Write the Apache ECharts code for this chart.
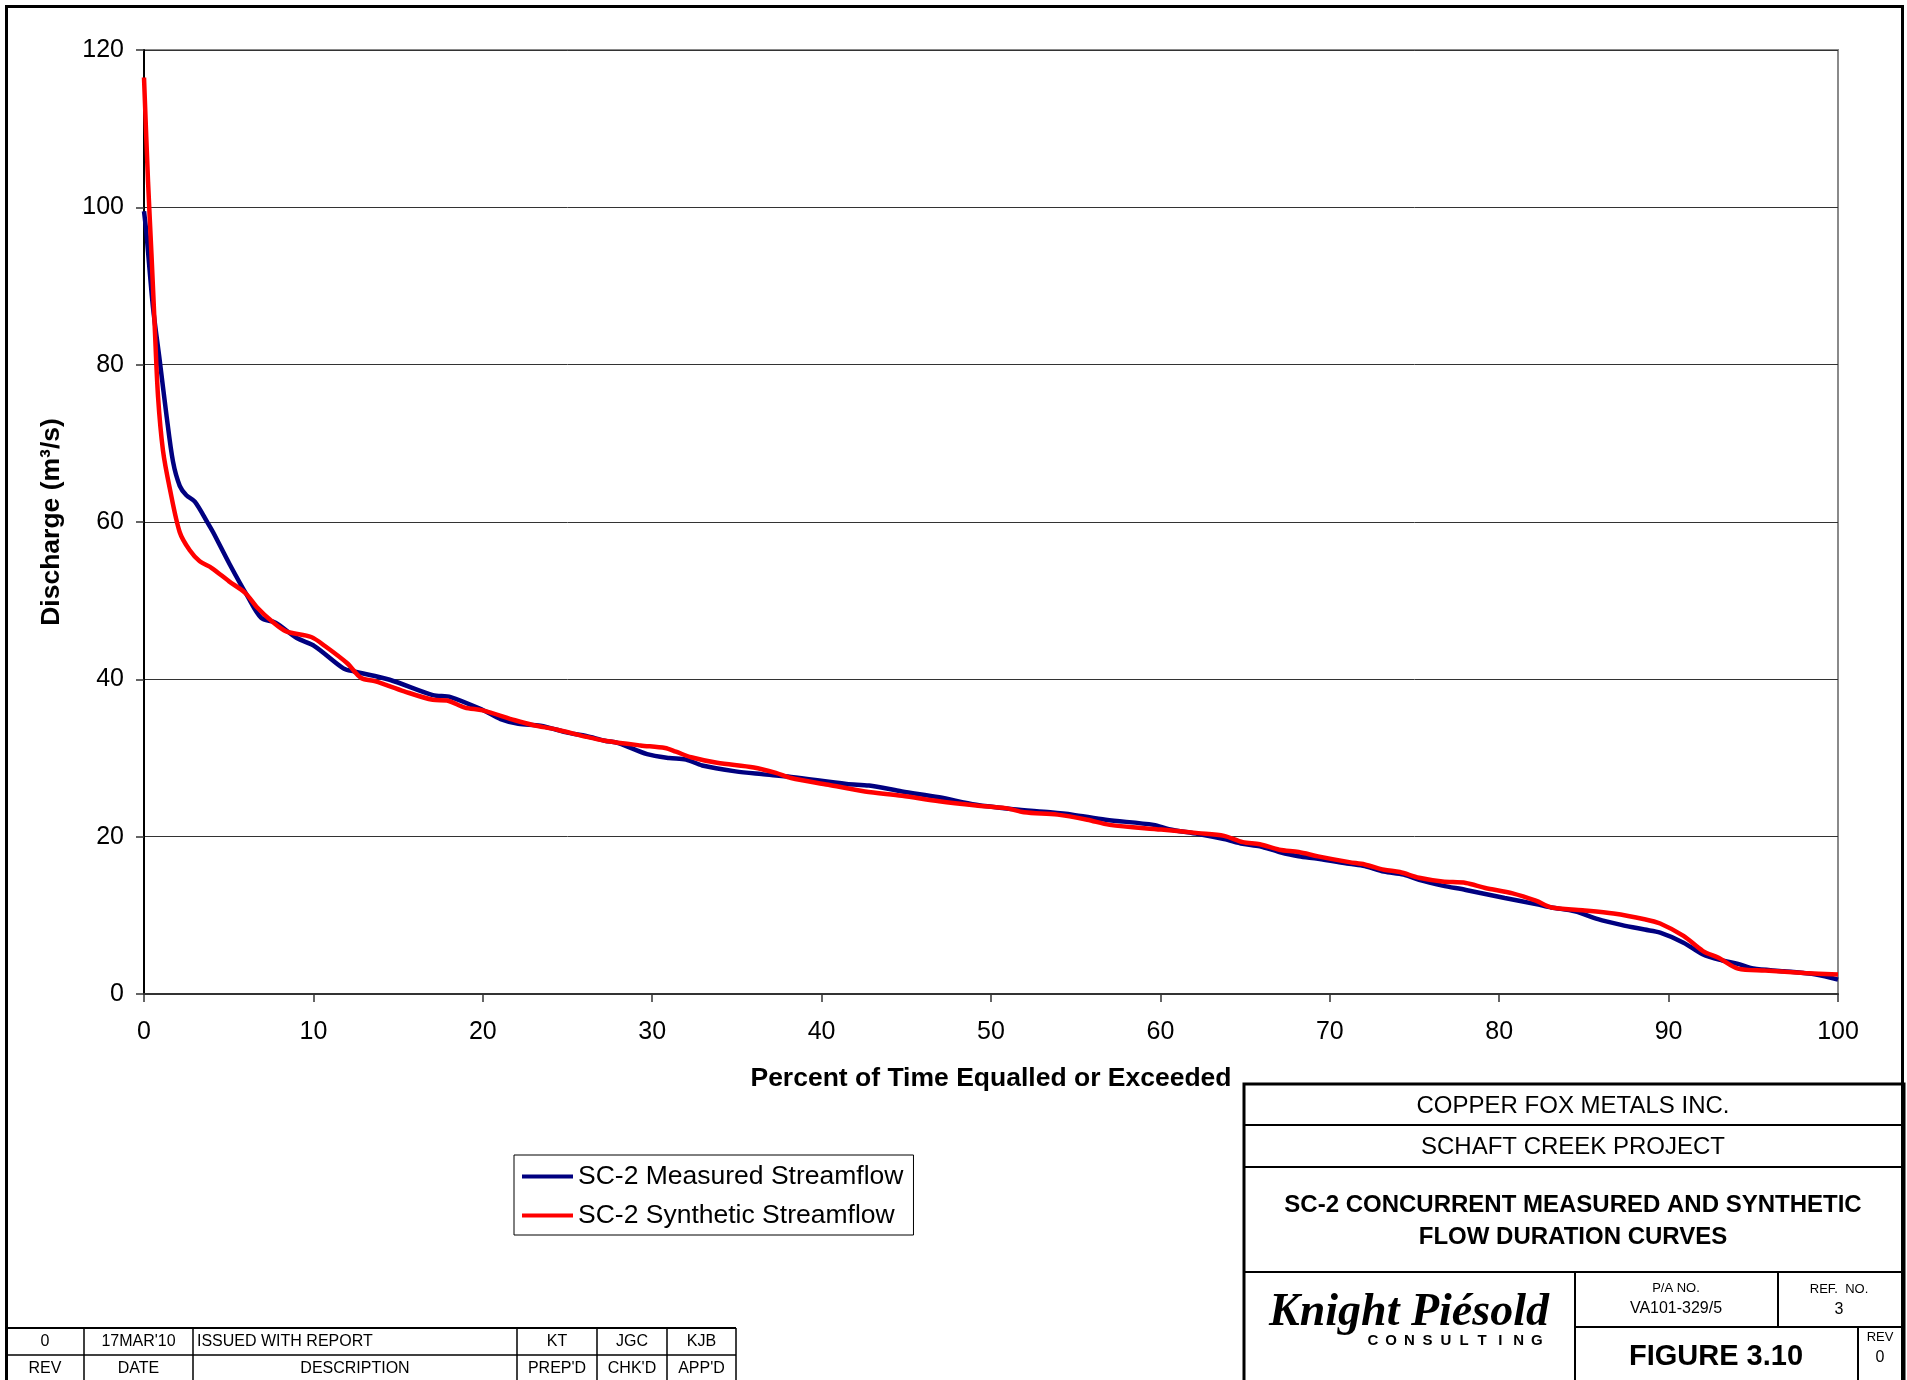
<!DOCTYPE html>
<html><head><meta charset="utf-8">
<script src="https://cdn.jsdelivr.net/npm/echarts@6/dist/echarts.min.js"></script>
<style>html,body{margin:0;padding:0;background:#fff}#c{width:1907px;height:1380px}</style>
</head><body><div id="c"></div>
<script>
// ---------- data ----------
const seriesNames = ['SC-2 Measured Streamflow', 'SC-2 Synthetic Streamflow'];
const xAxisTitle = 'Percent of Time Equalled or Exceeded';
const yAxisTitle = 'Discharge (m\u00B3/s)';
const xTickMin = 0, xTickMax = 100, xTickStep = 10;
const yTickMin = 0, yTickMax = 120, yTickStep = 20;

const pctMeasured = [0, 0.14, 0.53, 0.93, 1.32, 1.71, 2.11, 2.5, 3.0, 3.76, 4.08, 5.04, 6.1, 6.92, 7.76, 9.02, 10.08, 11.77, 12.4, 14.5, 17.05, 18.1, 20.0, 21.05, 22.1, 23.4, 25.06, 26.1, 27.2, 28.0, 29.7, 31.0, 32.0, 32.95, 34.92, 36.45, 38.2, 41.48, 42.8, 44.75, 46.94, 49.12, 51.3, 53.5, 54.8, 56.77, 59.6, 60.5, 62.24, 63.76, 64.86, 65.87, 67.02, 68.16, 69.31, 71.15, 72.06, 73.2, 74.36, 75.27, 76.65, 78.03, 80.33, 82.16, 83.08, 84.47, 85.83, 87.2, 88.58, 89.5, 90.88, 92.03, 93.17, 94.1, 95.0, 96.8, 98.7, 100];
const flowMeasured = [99.5, 96.8, 87.3, 80.5, 73.7, 67.7, 64.6, 63.4, 62.6, 59.9, 58.7, 54.7, 50.6, 47.8, 47.2, 45.25, 44.2, 41.4, 41.0, 39.95, 38.0, 37.75, 36.1, 34.95, 34.35, 34.1, 33.2, 32.8, 32.2, 31.9, 30.5, 30.0, 29.8, 29.05, 28.3, 27.95, 27.6, 26.7, 26.5, 25.75, 25.0, 24.05, 23.5, 23.1, 22.8, 22.15, 21.5, 20.95, 20.35, 19.7, 19.1, 18.77, 18.05, 17.5, 17.2, 16.55, 16.26, 15.57, 15.19, 14.5, 13.78, 13.23, 12.2, 11.43, 11.0, 10.5, 9.51, 8.79, 8.19, 7.8, 6.53, 5.03, 4.26, 3.83, 3.23, 2.9, 2.47, 1.83];

const pctSynthetic = [0, 0.24, 0.44, 0.63, 0.83, 1.12, 1.52, 2.11, 2.7, 3.29, 4.0, 5.02, 5.97, 6.71, 7.55, 8.39, 9.87, 10.7, 11.98, 12.82, 13.67, 15.36, 17.05, 17.89, 18.94, 20.0, 21.9, 22.95, 24.4, 26.1, 27.2, 29.3, 30.76, 31.4, 32.3, 33.83, 36.0, 37.3, 38.2, 40.4, 42.56, 44.75, 46.94, 49.12, 50.87, 51.96, 53.93, 55.68, 57.0, 60.05, 62.24, 63.76, 64.86, 65.87, 67.02, 68.16, 69.31, 71.15, 72.06, 73.2, 74.13, 75.27, 76.65, 78.03, 79.18, 80.79, 82.16, 83.08, 84.92, 86.75, 88.58, 89.5, 90.88, 92.03, 92.95, 94.1, 95.7, 98.0, 100];
const flowSynthetic = [116.5, 103.2, 94.1, 85.0, 75.9, 69.1, 64.3, 58.7, 56.4, 55.0, 54.15, 52.45, 51.0, 49.07, 47.37, 46.1, 45.38, 44.2, 42.07, 40.17, 39.74, 38.47, 37.4, 37.3, 36.4, 36.05, 34.8, 34.2, 33.6, 32.7, 32.2, 31.6, 31.26, 30.8, 30.1, 29.4, 28.8, 28.1, 27.45, 26.6, 25.75, 25.2, 24.5, 23.97, 23.63, 23.1, 22.8, 22.15, 21.5, 20.9, 20.45, 20.1, 19.3, 19.03, 18.34, 18.05, 17.5, 16.76, 16.47, 15.8, 15.5, 14.77, 14.3, 14.12, 13.48, 12.8, 11.86, 11.0, 10.66, 10.24, 9.51, 8.96, 7.38, 5.46, 4.6, 3.23, 2.98, 2.68, 2.47];

const titleLines = ['COPPER FOX METALS INC.', 'SCHAFT CREEK PROJECT'];
const figTitle = ['SC-2 CONCURRENT MEASURED AND SYNTHETIC', 'FLOW DURATION CURVES'];
const revValues = ['0', "17MAR'10", 'ISSUED WITH REPORT', 'KT', 'JGC', 'KJB'];
const revHeaders = ['REV', 'DATE', 'DESCRIPTION', "PREP'D", "CHK'D", "APP'D"];

// ---------- helpers ----------
const SANS = '"Liberation Sans", Arial, sans-serif';
function pairs(xs, ys) { return xs.map((x, i) => [x, ys[i]]); }
function T(x, y, text, size, opts) {
  opts = opts || {};
  return {
    type: 'text', silent: true, z: 10,
    style: {
      x: x, y: y, text: text,
      fontSize: size, fontFamily: opts.family || SANS,
      fontWeight: opts.weight || 'normal', fontStyle: opts.style || 'normal',
      fill: '#000', align: opts.align || 'center', verticalAlign: 'middle'
    }
  };
}
function L(x1, y1, x2, y2, w) {
  return { type: 'line', silent: true, z: 9, shape: { x1, y1, x2, y2 }, style: { stroke: '#000', lineWidth: w || 2 } };
}

const g = [];
// page frame
g.push({ type: 'rect', silent: true, z: 9, shape: { x: 6.5, y: 6.5, width: 1896, height: 1420 }, style: { fill: 'none', stroke: '#000', lineWidth: 3 } });
// title block
g.push({ type: 'rect', silent: true, z: 8, shape: { x: 1244, y: 1084, width: 660, height: 300 }, style: { fill: '#fff', stroke: '#000', lineWidth: 3 } });
g.push(L(1244, 1125, 1903, 1125, 2));
g.push(L(1244, 1167, 1903, 1167, 2));
g.push(L(1244, 1272, 1903, 1272, 2));
g.push(L(1575, 1272, 1575, 1380, 2));
g.push(L(1778, 1272, 1778, 1327, 2));
g.push(L(1575, 1327, 1903, 1327, 2));
g.push(L(1858, 1327, 1858, 1380, 2));
g.push(T(1573, 1106, titleLines[0], 24));
g.push(T(1573, 1147, titleLines[1], 24));
g.push(T(1573, 1205, figTitle[0], 24, { weight: 'bold' }));
g.push(T(1573, 1237, figTitle[1], 24, { weight: 'bold' }));
g.push(T(1409, 1313, 'Knight Pi\u00E9sold', 46, { family: '"Liberation Serif", "Times New Roman", serif', weight: 'bold', style: 'italic' }));
const consult = 'CONSULTING';
for (let i = 0; i < consult.length; i++) {
  g.push(T(1373 + i * 18.2, 1341, consult[i], 15, { weight: '900' }));
}
g.push(T(1676, 1288, 'P/A NO.', 13));
g.push(T(1676, 1309, 'VA101-329/5', 16));
g.push(T(1839, 1289, 'REF.  NO.', 13));
g.push(T(1839, 1310, '3', 16));
g.push(T(1716, 1357, 'FIGURE 3.10', 29, { weight: 'bold' }));
g.push(T(1880, 1337, 'REV', 13));
g.push(T(1880, 1358, '0', 16));
// revision table
g.push(L(6, 1328, 736, 1328, 2));
g.push(L(6, 1355, 736, 1355, 1.5));
const colEdges = [6, 84, 193, 517, 597, 667, 736];
for (let i = 1; i < colEdges.length; i++) g.push(L(colEdges[i], 1328, colEdges[i], 1380, 1.5));
for (let i = 0; i < revValues.length; i++) {
  const cx = (colEdges[i] + colEdges[i + 1]) / 2;
  if (i === 2) g.push(T(colEdges[i] + 4, 1342, revValues[i], 16, { align: 'left' }));
  else g.push(T(cx, 1342, revValues[i], 16));
  g.push(T(cx, 1369, revHeaders[i], 16));
}

const chart = echarts.init(document.getElementById('c'), null, { renderer: 'canvas' });
chart.setOption({
  backgroundColor: '#fff',
  animation: false,
  textStyle: { fontFamily: SANS, color: '#000' },
  grid: { left: 144, top: 50, width: 1694, height: 944, show: true, borderColor: '#8a8a8a', borderWidth: 2, backgroundColor: '#fff', containLabel: false, outerBoundsMode: 'none' },
  legend: {
    orient: 'vertical', left: 514, top: 1155,
    data: seriesNames,
    icon: 'rect', itemWidth: 51, itemHeight: 4, itemGap: 12,
    padding: [8, 10, 6, 8],
    borderColor: '#000', borderWidth: 1, backgroundColor: '#fff',
    textStyle: { fontSize: 26.5, color: '#000', fontFamily: SANS }
  },
  xAxis: {
    type: 'value', min: xTickMin, max: xTickMax, interval: xTickStep,
    name: xAxisTitle, nameLocation: 'middle', nameGap: 71,
    nameTextStyle: { fontSize: 26.5, fontWeight: 'bold', color: '#000', fontFamily: SANS },
    axisLine: { show: true, onZero: false, lineStyle: { color: '#333', width: 2 } },
    axisTick: { show: true, inside: false, length: 8, lineStyle: { color: '#333', width: 1.5 } },
    axisLabel: { fontSize: 25, color: '#000', margin: 26, fontFamily: SANS },
    splitLine: { show: false }
  },
  yAxis: {
    type: 'value', min: yTickMin, max: yTickMax, interval: yTickStep,
    name: yAxisTitle, nameLocation: 'middle', nameGap: 79, nameRotate: 90,
    nameTextStyle: { fontSize: 26.5, fontWeight: 'bold', color: '#000', fontFamily: SANS },
    axisLine: { show: true, onZero: false, lineStyle: { color: '#000', width: 2 } },
    axisTick: { show: true, inside: false, length: 8, lineStyle: { color: '#333', width: 1.5 } },
    axisLabel: { fontSize: 25, color: '#000', margin: 20, fontFamily: SANS },
    splitLine: { show: true, lineStyle: { color: '#333', width: 1 } }
  },
  series: [
    { name: seriesNames[0], type: 'line', data: pairs(pctMeasured, flowMeasured), smooth: 0.3, showSymbol: false, symbol: 'none', lineStyle: { color: '#000080', width: 4.5 }, itemStyle: { color: '#000080' }, z: 3 },
    { name: seriesNames[1], type: 'line', data: pairs(pctSynthetic, flowSynthetic), smooth: 0.3, showSymbol: false, symbol: 'none', lineStyle: { color: '#ff0000', width: 4.5 }, itemStyle: { color: '#ff0000' }, z: 4 }
  ],
  graphic: g
});
</script></body></html>
